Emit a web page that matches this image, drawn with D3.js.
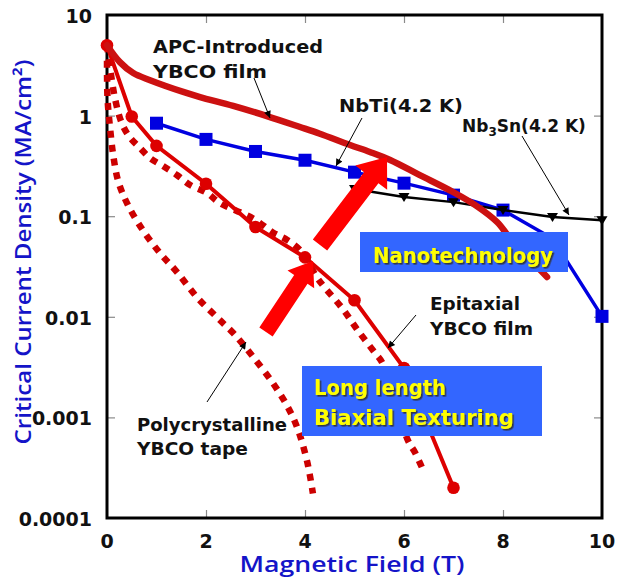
<!DOCTYPE html>
<html><head><meta charset="utf-8">
<script src="https://cdn.jsdelivr.net/npm/d3@7"></script>
<style>html,body{margin:0;padding:0;background:#fff;} svg{display:block;}</style>
</head><body>
<svg id="c" width="617" height="578"></svg>
<script>
// ---------- data ----------
const xTickValues = [0, 2, 4, 6, 8, 10];
const xTickLabels = ["0", "2", "4", "6", "8", "10"];
const yTickValues = [1e-4, 1e-3, 1e-2, 0.1, 1, 10];
const yTickLabels = ["0.0001", "0.001", "0.01", "0.1", "1", "10"];

// NbTi (4.2 K)
const nbtiB = [1, 2, 3, 4, 5, 6, 7, 8, 9, 10];
const nbtiJ = [0.84, 0.58, 0.44, 0.36, 0.274, 0.213, 0.162, 0.115, 0.06, 0.0101];
// Nb3Sn (4.2 K)
const nb3snB = [5, 6, 7, 8, 9, 10];
const nb3snJ = [0.186, 0.155, 0.138, 0.115, 0.098, 0.091];
// APC-introduced YBCO film
const apcB = [0, 0.26, 0.53, 0.87, 1.54, 1.88, 2.55, 3.23, 3.9, 4.3, 4.91, 5.31, 5.72, 6.32, 6.99, 7.47, 7.88, 8.14, 8.48, 8.89];
const apcJ = [5, 3.4, 2.65, 2.25, 1.72, 1.53, 1.25, 0.99, 0.77, 0.66, 0.51, 0.435, 0.362, 0.256, 0.174, 0.126, 0.0875, 0.0607, 0.0402, 0.0249];
// Epitaxial YBCO film (solid, circles)
const epiB = [0, 0.5, 1, 2, 3, 4, 5, 6, 7];
const epiJ = [5, 0.98, 0.5, 0.21, 0.078, 0.039, 0.0146, 0.0031, 0.0002];
// Epitaxial YBCO film (dotted)
const epiDotB = [0, 0.16, 0.3, 0.46, 0.67, 0.87, 1.11, 1.41, 1.68, 2.02, 2.28, 2.95, 3.35, 3.64, 3.9, 4.24, 4.36, 4.75, 5.07, 5.41, 5.56, 6.08, 6.22, 6.36];
const epiDotJ = [5, 1.49, 0.84, 0.61, 0.475, 0.378, 0.32, 0.257, 0.204, 0.17, 0.135, 0.095, 0.069, 0.058, 0.046, 0.0247, 0.0206, 0.0122, 0.0073, 0.0044, 0.0035, 0.00059, 0.00045, 0.00032];
// Polycrystalline YBCO tape (dotted)
const polyB = [0, 0.01, 0.06, 0.13, 0.23, 0.42, 0.73, 1.07, 1.41, 1.82, 2.22, 2.55, 2.95, 3.35, 3.64, 3.84, 4.04, 4.16];
const polyJ = [3.5, 1.5, 0.77, 0.39, 0.22, 0.13, 0.072, 0.043, 0.028, 0.0156, 0.0099, 0.0069, 0.004, 0.0022, 0.0013, 0.0008, 0.00037, 0.000175];

// ---------- layout ----------
const svg = d3.select("#c");
const L = 107, T = 15, R = 602, B = 518;
const x = d3.scaleLinear().domain([0, 10]).range([L, R]);
const y = d3.scaleLog().domain([1e-4, 10]).range([B, T]);
const zip = (a, b) => a.map((v, i) => [v, b[i]]);

svg.append("rect").attr("width", 617).attr("height", 578).attr("fill", "#fff");

const defs = svg.append("defs");
defs.append("marker").attr("id", "ah").attr("viewBox", "0 0 10 10")
  .attr("refX", 10).attr("refY", 5).attr("markerWidth", 9).attr("markerHeight", 7)
  .attr("markerUnits", "userSpaceOnUse").attr("orient", "auto")
  .append("path").attr("d", "M0,0 L10,5 L0,10 Z").attr("fill", "#000");
const sh = defs.append("filter").attr("id", "shadow").attr("x", "-5%").attr("y", "-20%")
  .attr("width", "115%").attr("height", "150%");
sh.append("feDropShadow").attr("dx", 1.6).attr("dy", 1.6).attr("stdDeviation", 0.4)
  .attr("flood-color", "#333").attr("flood-opacity", 0.9);

// inner ticks via axes
const tickCol = "#8a8a8a";
function styleAxis(g) {
  g.select(".domain").remove();
  g.selectAll("line").attr("stroke", tickCol).attr("stroke-width", 1.2);
  g.selectAll("text").remove();
}
const innerX = xTickValues.slice(1, -1);
const innerY = yTickValues.slice(1, -1);
svg.append("g").attr("transform", `translate(0,${B})`)
  .call(d3.axisBottom(x).tickValues(innerX).tickSizeInner(-8).tickSizeOuter(0)).call(styleAxis);
svg.append("g").attr("transform", `translate(0,${T})`)
  .call(d3.axisTop(x).tickValues(innerX).tickSizeInner(-8).tickSizeOuter(0)).call(styleAxis);
svg.append("g").attr("transform", `translate(${L},0)`)
  .call(d3.axisLeft(y).tickValues(innerY).tickSizeInner(-8).tickSizeOuter(0)).call(styleAxis);
svg.append("g").attr("transform", `translate(${R},0)`)
  .call(d3.axisRight(y).tickValues(innerY).tickSizeInner(-8).tickSizeOuter(0)).call(styleAxis);

// frame
svg.append("rect").attr("x", L).attr("y", T).attr("width", R - L).attr("height", B - T)
  .attr("fill", "none").attr("stroke", "#000").attr("stroke-width", 3);

// tick labels
const tickFont = "'DejaVu Sans', sans-serif";
svg.append("g").selectAll("text").data(yTickValues).join("text")
  .attr("x", 92).attr("y", d => y(d) + 8).attr("text-anchor", "end")
  .attr("font-family", tickFont).attr("font-weight", "bold").attr("font-size", 19)
  .attr("fill", "#111").text((d, i) => yTickLabels[i]);
svg.append("g").selectAll("text").data(xTickValues).join("text")
  .attr("x", d => x(d)).attr("y", 548).attr("text-anchor", "middle")
  .attr("font-family", tickFont).attr("font-weight", "bold").attr("font-size", 19)
  .attr("fill", "#111").text((d, i) => xTickLabels[i]);

// axis titles
const titleFont = "'Open Sans', 'Noto Sans', sans-serif";
svg.append("text").attr("transform", "translate(31,252) rotate(-90)")
  .attr("text-anchor", "middle").attr("font-family", titleFont).attr("font-weight", 600)
  .attr("font-size", 22).attr("fill", "#1414c8")
  .attr("textLength", 385).attr("lengthAdjust", "spacingAndGlyphs")
  .text("Critical Current Density (MA/cm²)");
svg.append("text").attr("x", 352).attr("y", 572)
  .attr("text-anchor", "middle").attr("font-family", titleFont).attr("font-weight", 600)
  .attr("font-size", 21).attr("fill", "#1414c8")
  .attr("textLength", 225).attr("lengthAdjust", "spacingAndGlyphs")
  .text("Magnetic Field (T)");

// ---------- series ----------
const linLine = d3.line().x(d => x(d[0])).y(d => y(d[1]));
const smoothLine = d3.line().x(d => x(d[0])).y(d => y(d[1])).curve(d3.curveCatmullRom.alpha(0.5));

// NbTi
const nbti = zip(nbtiB, nbtiJ);
svg.append("path").attr("d", linLine(nbti)).attr("fill", "none")
  .attr("stroke", "#0000e0").attr("stroke-width", 3.5);
svg.append("g").selectAll("rect").data(nbti).join("rect")
  .attr("x", d => x(d[0]) - 6.5).attr("y", d => y(d[1]) - 6.5)
  .attr("width", 13).attr("height", 13).attr("fill", "#0000e0");

// Nb3Sn
const nb3sn = zip(nb3snB, nb3snJ);
svg.append("path").attr("d", linLine(nb3sn)).attr("fill", "none")
  .attr("stroke", "#000").attr("stroke-width", 2.5);
svg.append("g").selectAll("path").data(nb3sn).join("path")
  .attr("transform", d => `translate(${x(d[0])},${y(d[1])})`)
  .attr("d", "M-5.5,-4 L5.5,-4 L0,5 Z").attr("fill", "#000");

// Polycrystalline dotted
svg.append("path").attr("d", smoothLine(zip(polyB, polyJ))).attr("fill", "none")
  .attr("stroke", "#cc0000").attr("stroke-width", 6.5).attr("stroke-dasharray", "7,7");
// Epitaxial dotted
svg.append("path").attr("d", smoothLine(zip(epiDotB, epiDotJ))).attr("fill", "none")
  .attr("stroke", "#cc0000").attr("stroke-width", 6.5).attr("stroke-dasharray", "7,7");
// Epitaxial solid
const epi = zip(epiB, epiJ);
svg.append("path").attr("d", linLine(epi)).attr("fill", "none")
  .attr("stroke", "#dd0000").attr("stroke-width", 4);
svg.append("g").selectAll("circle").data(epi).join("circle")
  .attr("cx", d => x(d[0])).attr("cy", d => y(d[1])).attr("r", 6.3).attr("fill", "#dd0000");
// APC
svg.append("path").attr("d", smoothLine(zip(apcB, apcJ))).attr("fill", "none")
  .attr("stroke", "#cc1111").attr("stroke-width", 6.5).attr("stroke-linecap", "round");

// ---------- big red arrows (pixel layout) ----------
function blockArrow(tail, tip, sw, hw, hl) {
  const dx = tip[0] - tail[0], dy = tip[1] - tail[1];
  const len = Math.hypot(dx, dy), ux = dx / len, uy = dy / len, nx = -uy, ny = ux;
  const neck = [tip[0] - ux * hl, tip[1] - uy * hl];
  const p = [
    [tail[0] + nx * sw / 2, tail[1] + ny * sw / 2],
    [neck[0] + nx * sw / 2, neck[1] + ny * sw / 2],
    [neck[0] + nx * hw / 2, neck[1] + ny * hw / 2],
    tip,
    [neck[0] - nx * hw / 2, neck[1] - ny * hw / 2],
    [neck[0] - nx * sw / 2, neck[1] - ny * sw / 2],
    [tail[0] - nx * sw / 2, tail[1] - ny * sw / 2]
  ];
  svg.append("path").attr("d", "M" + p.map(q => q.join(",")).join("L") + "Z").attr("fill", "#ff0000");
}
blockArrow([320, 245], [387, 157], 18, 40, 26);
blockArrow([266, 332], [313, 261], 16, 32, 22);

// ---------- annotations ----------
const annFont = "'DejaVu Sans', sans-serif";
function ann(txt, px, py, w) {
  return svg.append("text").attr("x", px).attr("y", py).attr("font-family", annFont)
    .attr("font-weight", "bold").attr("font-size", 17).attr("fill", "#111")
    .attr("textLength", w).attr("lengthAdjust", "spacingAndGlyphs").text(txt);
}
ann("APC-Introduced", 153, 53, 170);
ann("YBCO  film", 153, 78, 114);
ann("NbTi(4.2 K)", 339, 112, 124);
const nb3 = svg.append("text").attr("x", 462).attr("y", 132).attr("font-family", annFont)
  .attr("font-weight", "bold").attr("font-size", 17).attr("fill", "#111");
nb3.append("tspan").text("Nb");
nb3.append("tspan").attr("font-size", 12).attr("dy", 4).text("3");
nb3.append("tspan").attr("dy", -4).text("Sn(4.2 K)");
ann("Epitaxial", 430, 310, 90);
ann("YBCO film", 430, 335, 103);
ann("Polycrystalline", 137, 431, 150);
ann("YBCO tape", 137, 455, 111);

function thinArrow(a, b) {
  svg.append("line").attr("x1", a[0]).attr("y1", a[1]).attr("x2", b[0]).attr("y2", b[1])
    .attr("stroke", "#000").attr("stroke-width", 1).attr("marker-end", "url(#ah)");
}
thinArrow([254, 78], [270, 118]);
thinArrow([362, 118], [336, 166]);
thinArrow([522, 136], [569, 215]);
thinArrow([416, 315], [388, 348]);
thinArrow([207, 402], [246, 342]);

// ---------- blue boxes ----------
function box(x0, y0, w, h, lines) {
  svg.append("rect").attr("x", x0).attr("y", y0).attr("width", w).attr("height", h).attr("fill", "#3366ff");
  lines.forEach(l => {
    svg.append("text").attr("x", l.x).attr("y", l.y)
      .attr("font-family", annFont).attr("font-weight", "bold").attr("font-size", 22)
      .attr("fill", "#ffff00").attr("filter", "url(#shadow)")
      .attr("textLength", l.w).attr("lengthAdjust", "spacingAndGlyphs").text(l.t);
  });
}
box(360, 232, 208, 40, [{ t: "Nanotechnology", x: 373, y: 263, w: 180 }]);
box(302, 366, 240, 70, [{ t: "Long length", x: 314, y: 395, w: 132 }, { t: "Biaxial Texturing", x: 314, y: 425, w: 200 }]);
</script>
</body></html>
